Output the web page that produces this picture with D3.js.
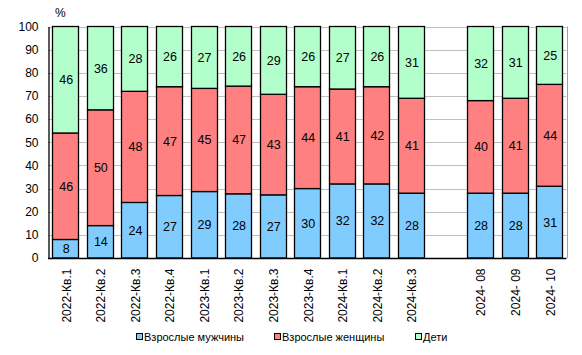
<!DOCTYPE html>
<html><head><meta charset="utf-8">
<script src="https://cdn.jsdelivr.net/npm/d3@7"></script>
<style>body{margin:0;background:#fff}svg{display:block;font-family:Arial,"Liberation Sans",sans-serif}</style>
</head><body><svg id="c" width="582" height="355"></svg>
<script>
const categories = ["2022-Кв.1","2022-Кв.2","2022-Кв.3","2022-Кв.4","2023-Кв.1","2023-Кв.2","2023-Кв.3","2023-Кв.4","2024-Кв.1","2024-Кв.2","2024-Кв.3","","2024- 08","2024- 09","2024- 10"];
const men   = [8,14,24,27,29,28,27,30,32,32,28,null,28,28,31];
const women = [46,50,48,47,45,47,43,44,41,42,41,null,40,41,44];
const kids  = [46,36,28,26,27,26,29,26,27,26,31,null,32,31,25];
const seriesNames = ["Взрослые мужчины","Взрослые женщины","Дети"];
const colors = ["#80CCFF","#FF8080","#B3FFCC"];
const yTicks = [0,10,20,30,40,50,60,70,80,90,100];

const svg = d3.select("#c");
const L=48, R=566.5, T=26.5, B=258;
const x = d3.scaleBand().domain(categories).range([L,R]).paddingInner(0.25).paddingOuter(0.125);
const y = d3.scaleLinear().domain([0,100]).range([B,T]);

const rows = categories.map((c,i)=>({cat:c, s0:men[i], s1:women[i], s2:kids[i]})).filter(r=>r.s0!==null);
const keys = ["s0","s1","s2"];
const stack = d3.stack().keys(keys).offset(d3.stackOffsetExpand)(rows);

// gridlines
svg.append("g").selectAll("line").data(yTicks.filter(d=>d>0)).join("line")
  .attr("x1",L).attr("x2",R).attr("y1",d=>Math.round(y(d))+0.5).attr("y2",d=>Math.round(y(d))+0.5)
  .attr("stroke","#c0c0c0").attr("stroke-width",1);
svg.append("line").attr("x1",Math.round(R)+0.5).attr("x2",Math.round(R)+0.5).attr("y1",y(100)).attr("y2",B)
  .attr("stroke","#a0a0a0");

// bars
stack.forEach((s,si)=>{
  const g = svg.append("g");
  g.selectAll("rect").data(s).join("rect")
    .attr("x",d=>Math.round(x(d.data.cat))+0.5)
    .attr("width",Math.round(x.bandwidth()))
    .attr("y",d=>y(d[1]*100))
    .attr("height",d=>y(d[0]*100)-y(d[1]*100))
    .attr("fill",colors[si]).attr("stroke","#000").attr("stroke-width",1.3);
  g.selectAll("text").data(s).join("text")
    .attr("x",d=>x(d.data.cat)+x.bandwidth()/2+1)
    .attr("y",d=>y((d[0]+d[1])*50))
    .attr("dy","0.36em").attr("text-anchor","middle")
    .attr("font-size",12.5).attr("fill","#000")
    .text(d=>d.data[keys[si]]);
});

// axes
const yAxis = d3.axisLeft(y).tickValues(yTicks).tickSize(0).tickPadding(10);
const ga = svg.append("g").attr("transform",`translate(${L+0.5},0)`).call(yAxis);
ga.select(".domain").attr("stroke","#000").attr("stroke-width",1.3);
ga.selectAll("text").attr("font-size",12).attr("fill","#000").attr("font-family","Arial,'Liberation Sans',sans-serif");

const xAxis = d3.axisBottom(x).tickSize(0).tickPadding(0);
const gx = svg.append("g").attr("transform",`translate(0,${B+0.5})`).call(xAxis);
gx.select(".domain").attr("d",`M${L},0H${R}`).attr("stroke","#000").attr("stroke-width",1.3);
gx.selectAll("text").attr("font-size",12).attr("fill","#000").attr("font-family","Arial,'Liberation Sans',sans-serif")
  .attr("text-anchor","end").attr("transform","rotate(-90)").attr("x",-10).attr("y",1).attr("dy","0.36em");

svg.append("text").attr("x",55).attr("y",17).attr("font-size",12).text("%");

// legend
const legX = [136,274,415];
seriesNames.forEach((n,i)=>{
  svg.append("rect").attr("x",legX[i]+0.5).attr("y",333.5).attr("width",6).attr("height",6)
    .attr("fill",colors[i]).attr("stroke","#000").attr("stroke-width",1);
  svg.append("text").attr("x",legX[i]+8).attr("y",337).attr("dy","0.36em").attr("font-size",11).text(n);
});
</script></body></html>
